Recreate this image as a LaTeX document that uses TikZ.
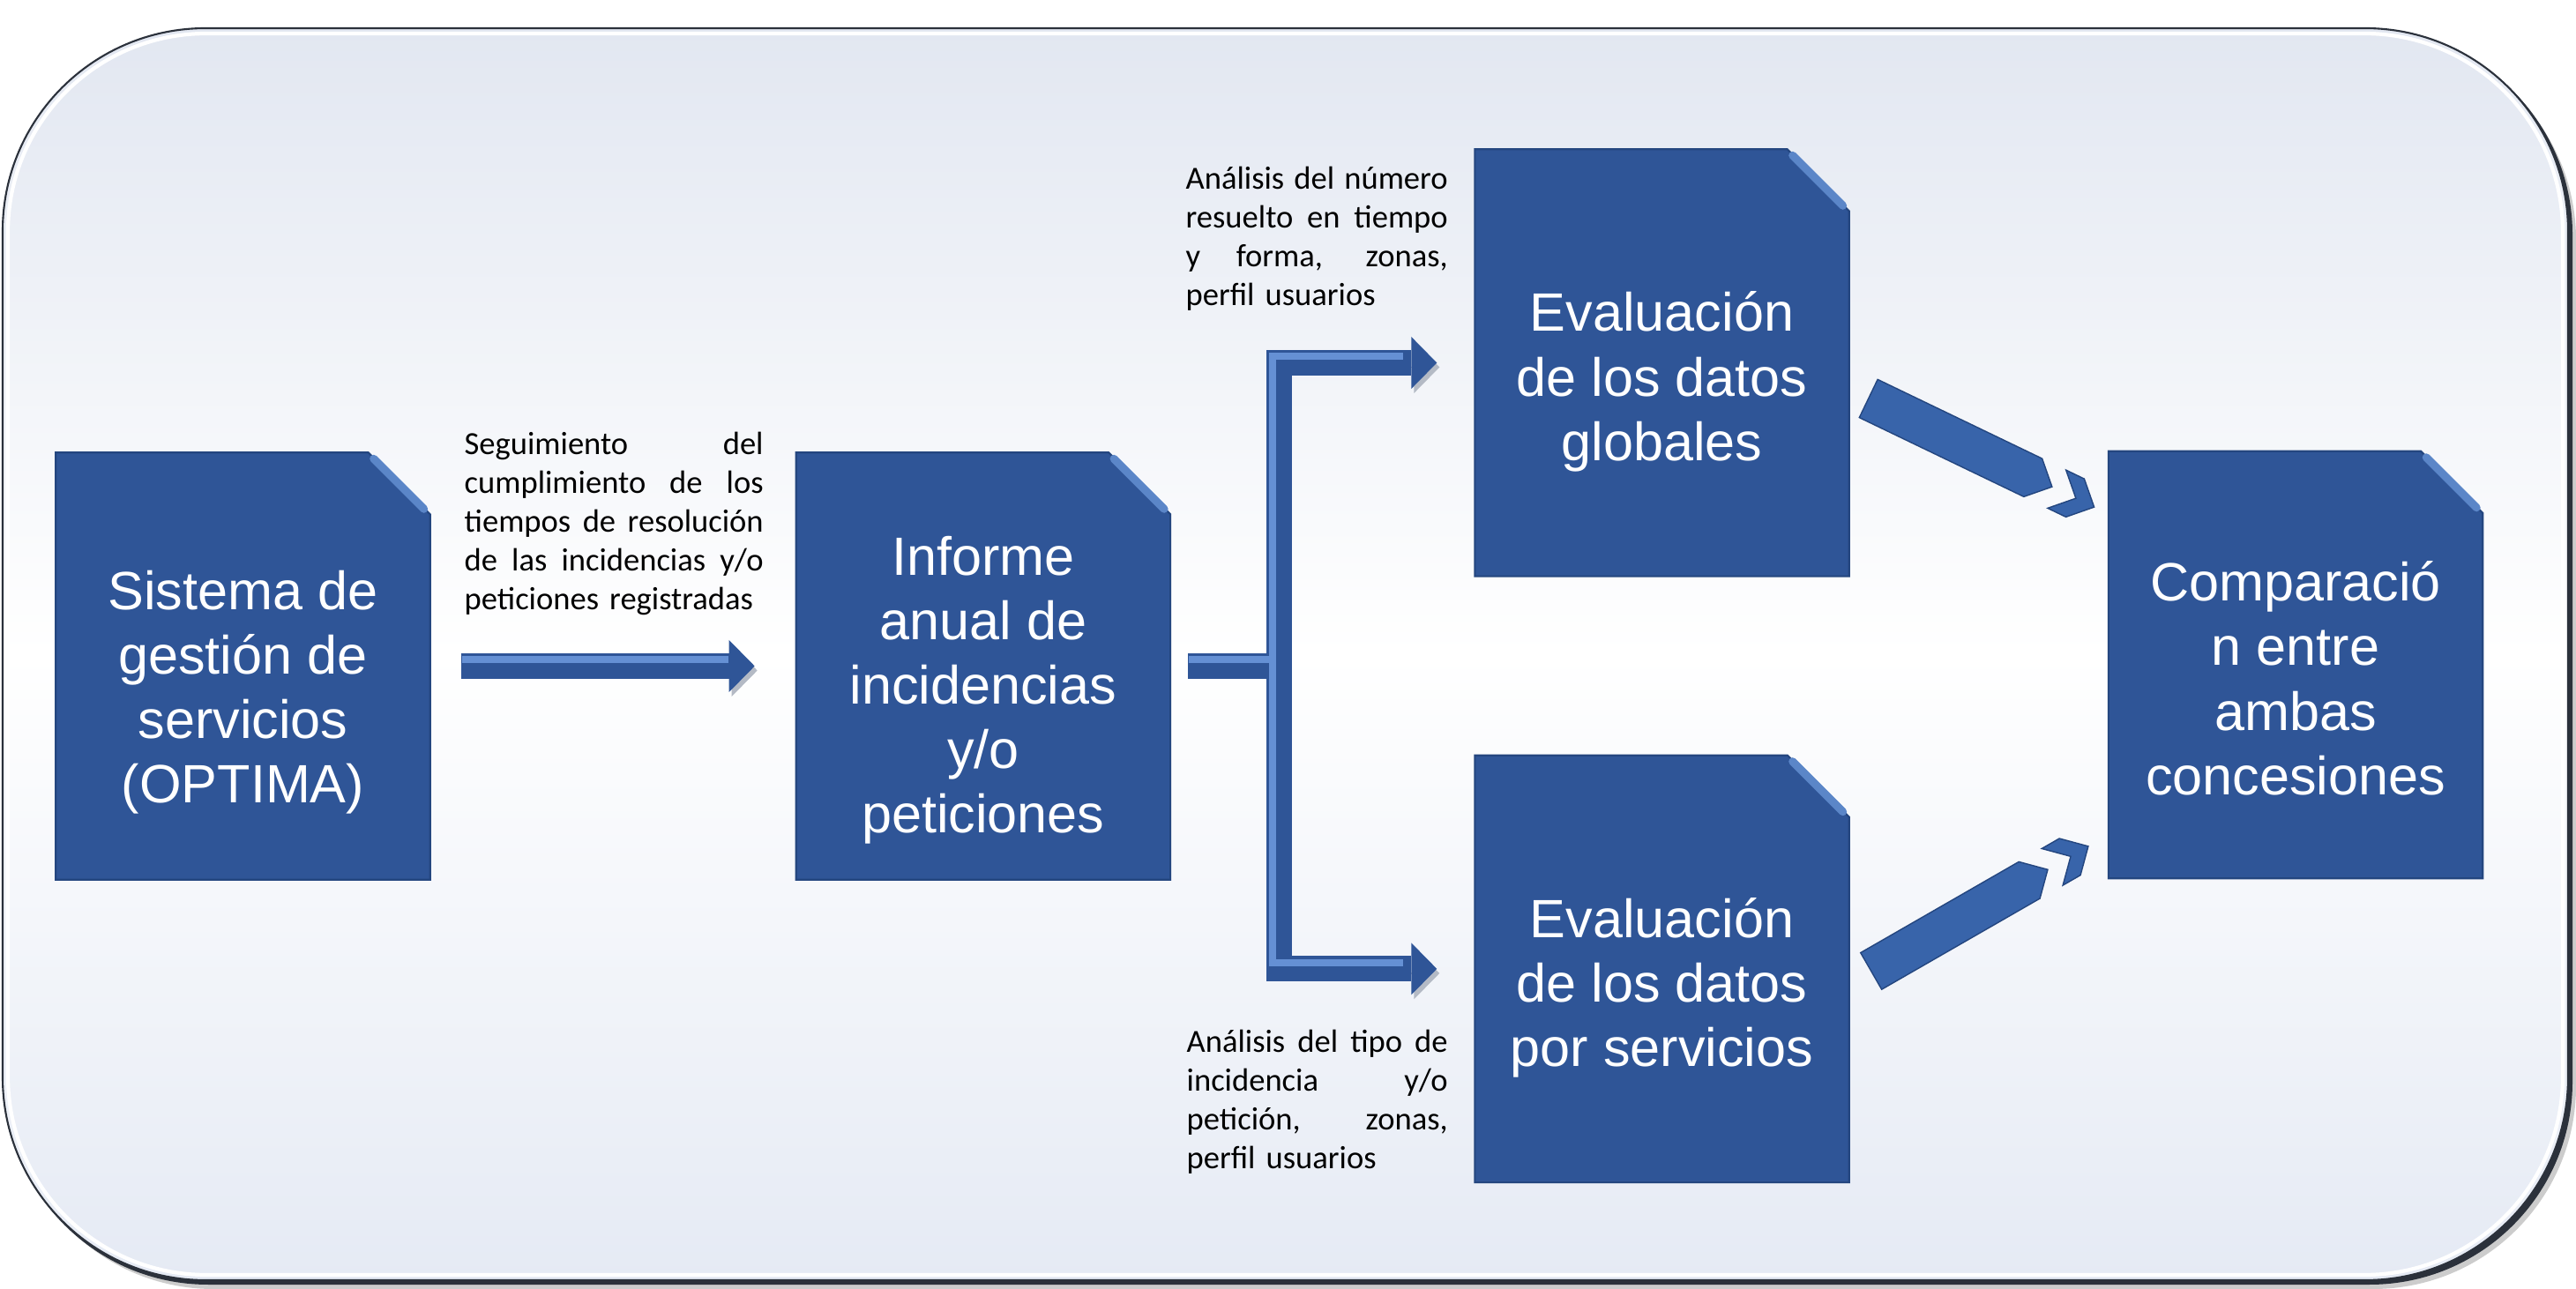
\documentclass[tikz,border=0pt]{standalone}
\usepackage{fontspec}
\newfontfamily\boxfont{Liberation Sans}
\newfontfamily\notefont{Carlito}
\usetikzlibrary{arrows.meta,positioning,calc}
\definecolor{boxblue}{HTML}{2F5597}
\definecolor{boxline}{HTML}{24467F}
\definecolor{boxlight}{HTML}{5B86C8}
\definecolor{arrowlight}{HTML}{6590D4}
\definecolor{diagblue}{HTML}{3864AA}
\definecolor{shadowgrey}{HTML}{B4BAC5}
\definecolor{bgtop}{HTML}{E2E7F1}
\definecolor{bgbottom}{HTML}{E5EAF4}
\definecolor{bgline}{HTML}{2B313B}
\newcommand{\jline}[2][3.39cm]{{\spaceskip=0pt\xspaceskip=0pt\makebox[#1][s]{#2}}}
\tikzset{
  docbox/.style={rectangle, minimum width=4.23cm, minimum height=4.83cm, inner sep=0pt},
  docfill/.style={fill=boxblue, draw=boxline, line width=0.6pt, line join=miter},
  docbevel/.style={draw=boxlight, line width=0.9mm, line cap=round},
  doctext/.style={text=white, align=center, inner sep=0pt, yshift=-2.6mm,
    font=\boxfont\fontsize{17.4pt}{20.8pt}\selectfont,
    execute at begin node=\strut, execute at end node=\strut},
  note/.style={anchor=north west, inner sep=0pt, align=left,
    font=\notefont\fontsize{10.4pt}{12.5pt}\selectfont, execute at begin node=\strut},
  blockarrow/.style={draw=boxblue, line width=2.9mm, line join=miter,
    -{Triangle[length=2.9mm, width=5.9mm, line width=0pt]},
    preaction={draw=shadowgrey, transform canvas={shift={(0.03,-0.05)}}}},
  hilite/.style={draw=arrowlight, line width=0.8mm},
  diagfill/.style={fill=diagblue, draw=boxline, line width=0.4pt, line join=miter},
  chevarrow/.pic={
    \path[diagfill] (0,0.24) -- (2.07,0.24) -- (2.31,0) -- (2.07,-0.24) -- (0,-0.24) -- cycle;
    \path[diagfill] (2.37,0.24) -- (2.60,0.24) -- (2.84,0) -- (2.60,-0.24) -- (2.37,-0.24) -- (2.61,0) -- cycle;
  }
}
\begin{document}
\begin{tikzpicture}
\useasboundingbox (0,0) rectangle (29.21,-14.62);
% background panel
\fill[black!20, rounded corners=2.3cm] (0.12,-0.42) rectangle (29.21,-14.62);
\fill[bgline, rounded corners=2.3cm] (0.06,-0.36) rectangle (29.17,-14.57);
\shadedraw[top color=bgtop, bottom color=bgbottom, middle color=white, draw=bgline, line width=0.6pt, rounded corners=2.3cm] (0.03,-0.32) rectangle (29.12,-14.52);
\draw[white, line width=1.2pt, rounded corners=2.25cm] (0.09,-0.38) rectangle (29.06,-14.46);

% boxes
\node[docbox] (b1) at (2.755,-7.555) {};
\node[docbox, right=4.15cm of b1] (b2) {};
\node[docbox] (b3) at (18.845,-4.115) {};
\node[docbox, below=2.03cm of b3] (b4) {};
\node[docbox] (b5) at (26.03,-7.54) {};
\foreach \b in {b1,b2,b3,b4,b5} {
  \path[docfill] (\b.south west) -- (\b.north west) -- ([xshift=-7mm]\b.north east)
    -- ([yshift=-7mm]\b.north east) -- (\b.south east) -- cycle;
  \draw[docbevel] ([shift={(-0.64,-0.07)}]\b.north east) -- ([shift={(-0.07,-0.64)}]\b.north east);
}
\node[doctext, yshift=-0.8mm] (t1) at (b1.center) {Sistema de\\gestión de\\servicios\\(OPTIMA)};
\node[doctext, yshift=-0.6mm] (t2) at (b2.center) {Informe\\anual de\\incidencias\\y/o\\peticiones};
\node[doctext] (t3) at (b3.center) {Evaluación\\de los datos\\globales};
\node[doctext] (t4) at (b4.center) {Evaluación\\de los datos\\por servicios};
\node[doctext] (t5) at (b5.center) {Comparació\\n entre\\ambas\\concesiones};

% arrows
\draw[blockarrow] ([xshift=3.5mm]b1.east) -- ([xshift=-4.7mm]b2.west);
\draw[hilite] ([xshift=3.6mm,yshift=0.7mm]b1.east) -- ([xshift=-7.7mm,yshift=0.7mm]b2.west);

\coordinate (fork) at ($(b2.east)+(1.23,0)$);
\draw[blockarrow] ([xshift=2mm]b2.east) -- (fork) |- ([xshift=-4.3mm]b3.west);
\draw[blockarrow] (fork) |- ([xshift=-4.3mm]b4.west);
\draw[hilite, transform canvas={shift={(-0.07,0.07)}}] ([xshift=2.8mm]b2.east) -- (fork) |- ([xshift=-7.4mm]b3.west);
\draw[hilite, transform canvas={shift={(-0.07,0.07)}}] (fork) |- ([xshift=-7.4mm]b4.west);

\coordinate (s1) at ($(b3.east)+(0.22,-0.405)$);
\coordinate (e1) at ($(b5.north west)+(-0.19,-0.62)$);
\coordinate (s2) at ($(b4.east)+(0.25,-0.025)$);
\coordinate (e2) at ($(b5.south west)+(-0.20,0.38)$);
\path (s1) -- (e1) pic[pos=0, sloped] {chevarrow};
\path (s2) -- (e2) pic[pos=0, sloped] {chevarrow};

% notes
\node[note, text width=3.39cm] (n1) at (5.26,-4.84) {\jline{Seguimiento del}\\\jline{cumplimiento de los}\\\jline{tiempos de resolución}\\\jline{de las incidencias y/o}\\peticiones registradas};
\node[note, text width=2.97cm] (n2) at (13.44,-1.83) {\jline[2.97cm]{Análisis del número}\\\jline[2.97cm]{resuelto en tiempo}\\\jline[2.97cm]{y forma, zonas,}\\perfil usuarios};
\node[note, text width=2.96cm] (n3) at (13.45,-11.62) {\jline[2.96cm]{Análisis del tipo de}\\\jline[2.96cm]{incidencia y/o}\\\jline[2.96cm]{petición, zonas,}\\perfil usuarios};
\end{tikzpicture}
\end{document}
